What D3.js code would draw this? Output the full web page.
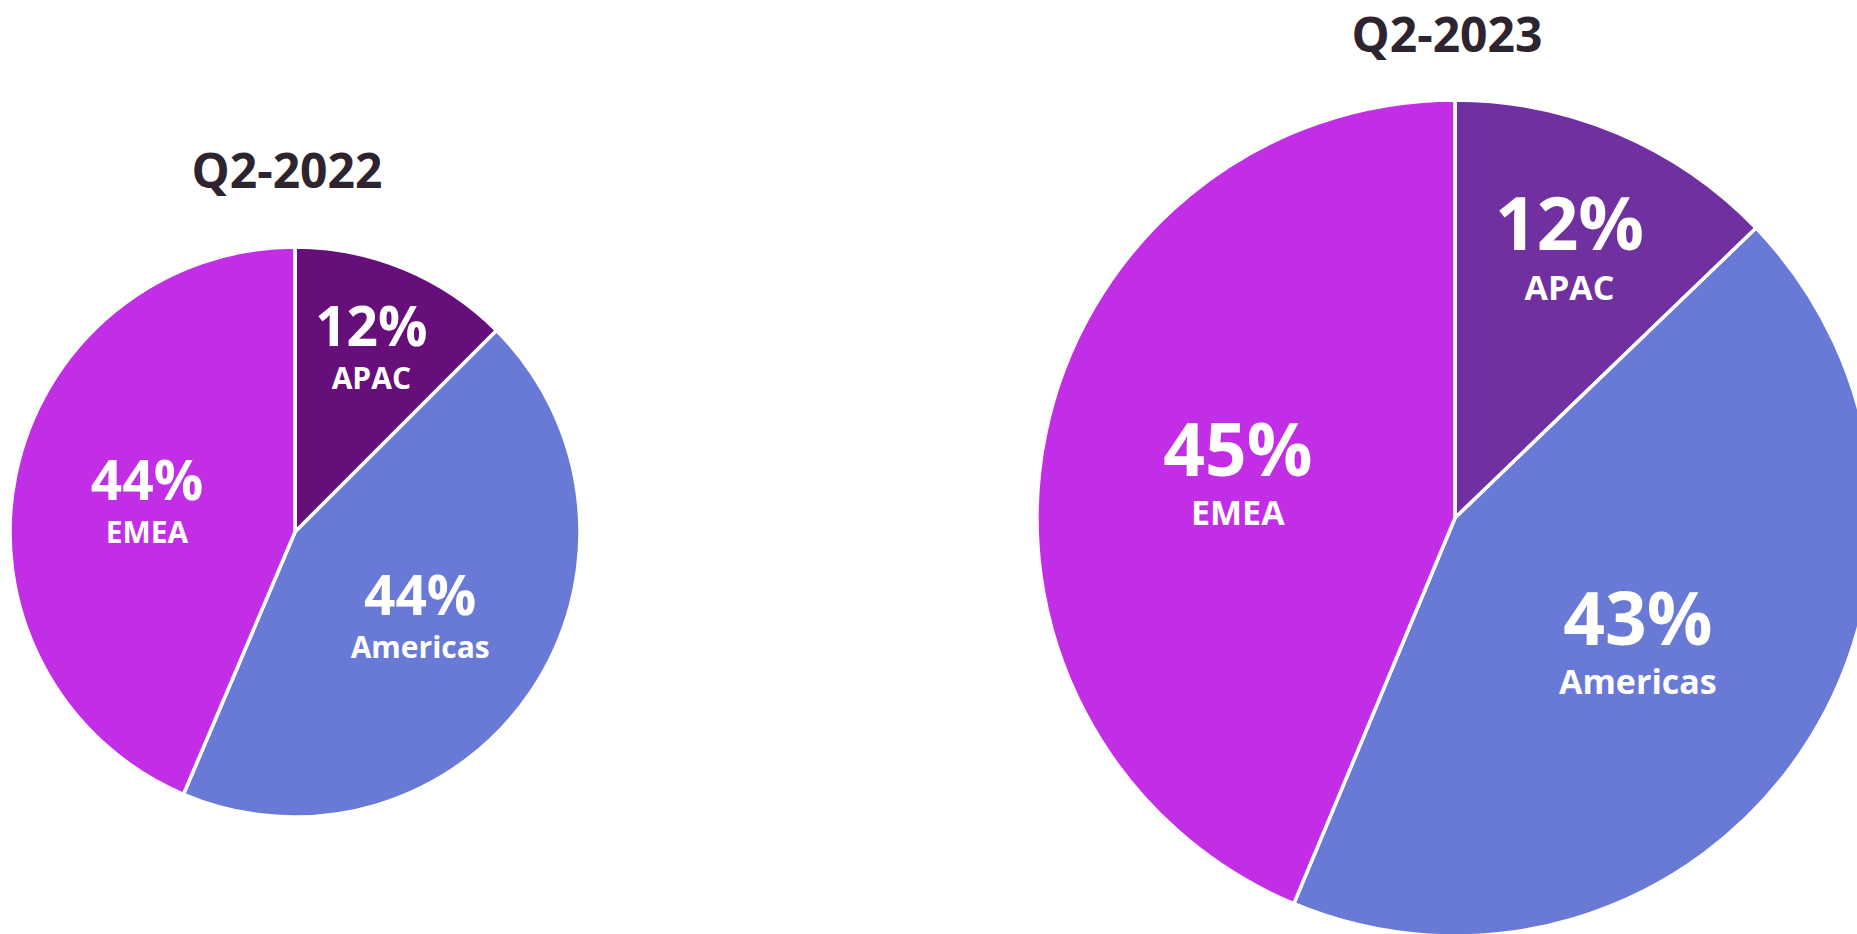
<!DOCTYPE html>
<html>
<head>
<meta charset="utf-8">
<script src="https://cdn.jsdelivr.net/npm/d3@7"></script>
<style>
  html, body { margin: 0; padding: 0; background: #ffffff; overflow: hidden; }
  svg { display: block; font-family: 'Open Sans', 'Noto Sans', sans-serif; }
</style>
</head>
<body>
<div id="chart"></div>
<script>
// data
var regions = ['APAC', 'Americas', 'EMEA'];
var titles = ['Q2-2022', 'Q2-2023'];
var shares2022 = [12.5, 43.9, 43.6];
var shares2023 = [12.8, 43.5, 43.7];
var labels2022 = ['12%', '44%', '44%'];
var labels2023 = ['12%', '43%', '45%'];

const WIDTH = 1857;
const HEIGHT = 934;

// layout for each pie (position and size only)
var layout = [
	{ cx: 295, cy: 532, r: 285, titleY: 188, titleSize: 48, pctSize: 55, catSize: 30, apac: '#660f7a' },
	{ cx: 1455, cy: 518, r: 418, titleY: 52, titleSize: 48, pctSize: 73, catSize: 34, apac: '#7030a0' }
];
var pies = [
	{ title: titles[0], values: shares2022, labels: labels2022 },
	{ title: titles[1], values: shares2023, labels: labels2023 }
];

var svg = d3.select('#chart').append('svg')
	.attr('width', WIDTH)
	.attr('height', HEIGHT);

var pie = d3.pie().sort(null).value(function (d) { return d; });

pies.forEach(function (p, k) {
	var L = layout[k];
	var color = d3.scaleOrdinal()
		.domain(regions)
		.range([L.apac, '#6979d6', '#c22ee6']);
	var arc = d3.arc().innerRadius(0).outerRadius(L.r);

	var g = svg.append('g')
		.attr('transform', 'translate(' + L.cx + ',' + L.cy + ')');

	g.selectAll('path').data(pie(p.values))
		.enter().append('path')
		.attr('d', arc)
		.attr('fill', function (d, i) { return color(regions[i]); })
		.style('stroke', 'white')
		.style('stroke-width', 3.5)
		.style('stroke-linejoin', 'round');

	// label block: percent on top, region below, centred on the anchor
	var pctCap = L.pctSize * 0.72;
	var gap = L.catSize * 1.45;
	var blockH = pctCap + gap;

	// small slices get their label further out
	var lbl = g.selectAll('g.lbl').data(pie(p.values))
		.enter().append('g')
		.attr('class', 'lbl')
		.attr('transform', function (d) {
			var f = (d.endAngle - d.startAngle) < Math.PI * 0.4 ? 0.70 : 0.53;
			var a = (d.startAngle + d.endAngle) / 2;
			return 'translate(' + (Math.sin(a) * L.r * f) + ',' + (-Math.cos(a) * L.r * f) + ')';
		});

	lbl.append('text')
		.attr('text-anchor', 'middle')
		.attr('y', -blockH / 2 + pctCap)
		.style('font-size', L.pctSize + 'px')
		.style('font-weight', 700)
		.attr('fill', '#ffffff')
		.text(function (d, i) { return p.labels[i]; });

	lbl.append('text')
		.attr('text-anchor', 'middle')
		.attr('y', blockH / 2)
		.style('font-size', L.catSize + 'px')
		.style('font-weight', 700)
		.attr('fill', '#ffffff')
		.text(function (d, i) { return regions[i]; });

	svg.append('text')
		.attr('x', L.cx - 8)
		.attr('y', L.titleY)
		.attr('text-anchor', 'middle')
		.style('font-size', L.titleSize + 'px')
		.style('font-weight', 700)
		.attr('fill', '#2e2430')
		.text(p.title);
});
</script>
</body>
</html>
